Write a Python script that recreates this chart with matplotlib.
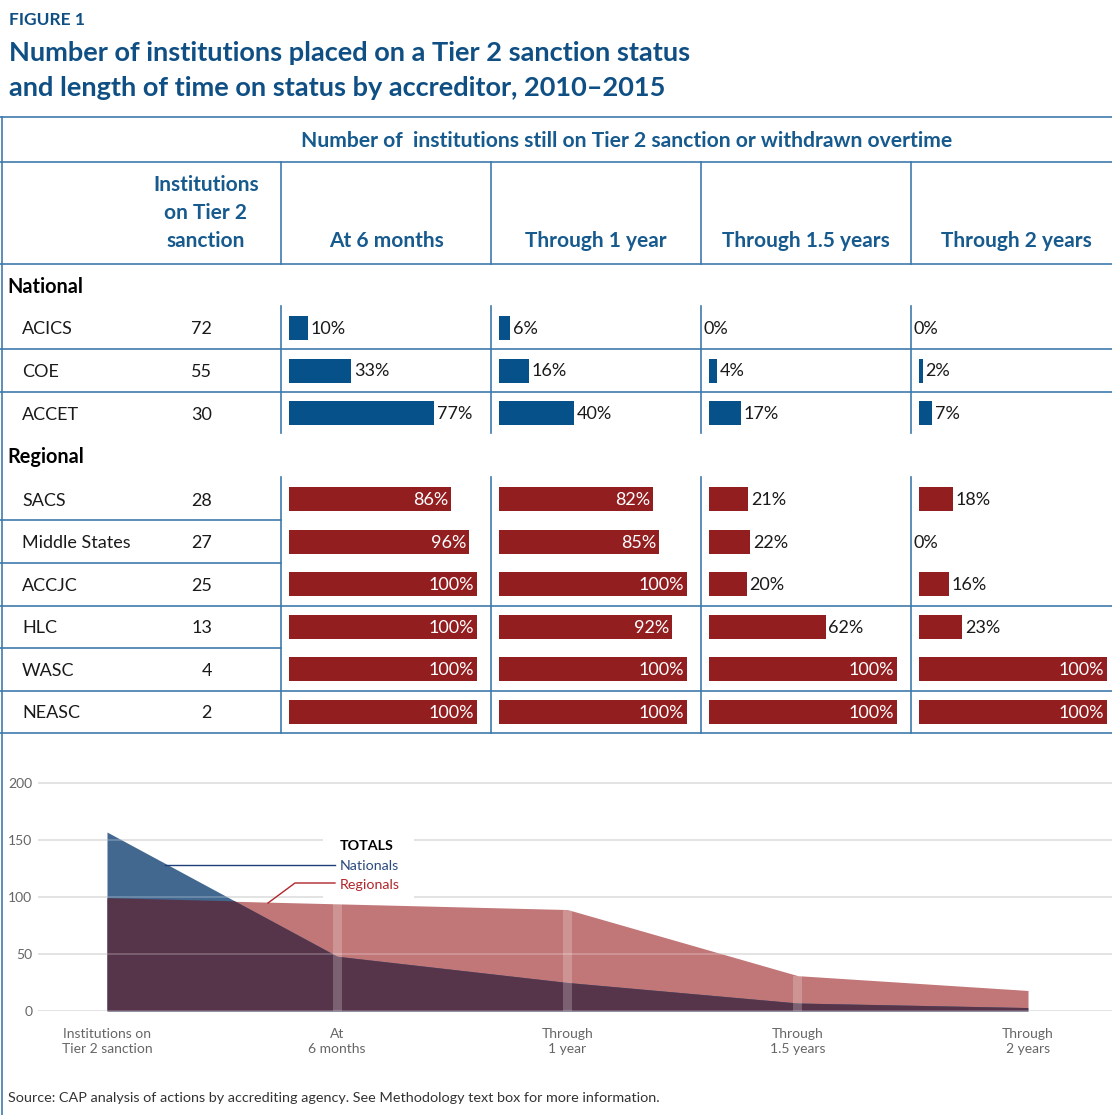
import numpy as np
import matplotlib
matplotlib.use("Agg")
import matplotlib.pyplot as plt
from matplotlib.patches import Rectangle

plt.rcParams['font.family'] = ['Lato', 'DejaVu Sans']

W, H = 1112, 1115

# ---- data ----
nat_names = ["ACICS", "COE", "ACCET"]
nat_counts = [72, 55, 30]
reg_names = ["SACS", "Middle States", "ACCJC", "HLC", "WASC", "NEASC"]
reg_counts = [28, 27, 25, 13, 4, 2]
periods = ["At 6 months", "Through 1 year", "Through 1.5 years", "Through 2 years"]
nat_pct = [[10, 6, 0, 0],
           [33, 16, 4, 2],
           [77, 40, 17, 7]]
reg_pct = [[86, 82, 21, 18],
           [96, 85, 22, 0],
           [100, 100, 20, 16],
           [100, 92, 62, 23],
           [100, 100, 100, 100],
           [100, 100, 100, 100]]
total_labels = ["Institutions on\nTier 2 sanction", "At\n6 months", "Through\n1 year",
                "Through\n1.5 years", "Through\n2 years"]
totals_nat = [157, 48, 25, 7, 3]
totals_reg = [99, 94, 89, 31, 18]
yticks = [0, 50, 100, 150, 200]

# ---- colours ----
TITLE_BLUE = "#0f4f83"
HEAD_BLUE = "#175a8e"
LINE = "#3f7aab"
BAR_BLUE = "#07518a"
BAR_RED = "#931e20"

fig = plt.figure(figsize=(W / 100, H / 100), dpi=100)
bg = fig.add_axes([0, 0, 1, 1])
bg.set_xlim(0, W)
bg.set_ylim(H, 0)
bg.axis("off")

# titles
bg.text(9, 25, "FIGURE 1", color=TITLE_BLUE, fontsize=12.5, fontweight="bold", va="baseline")
bg.text(9, 61, "Number of institutions placed on a Tier 2 sanction status",
        color=TITLE_BLUE, fontsize=19.5, fontweight="bold", va="baseline")
bg.text(9, 96, "and length of time on status by accreditor, 2010\u20132015",
        color=TITLE_BLUE, fontsize=19.5, fontweight="bold", va="baseline")

# table frame
col_lines = [281, 491, 701, 911]
bg.plot([1.5, 1.5], [117, H], color=LINE, lw=1.2)
for y in [117, 162, 264]:
    bg.plot([0, W], [y, y], color=LINE, lw=1.2)
for x in col_lines:
    bg.plot([x, x], [162, 264], color=LINE, lw=1.2)

bg.text(627, 147, "Number of  institutions still on Tier 2 sanction or withdrawn overtime",
        color=HEAD_BLUE, fontsize=15.2, fontweight="bold", ha="center", va="baseline")
bg.text(206, 247, "Institutions\non Tier 2\nsanction", color=HEAD_BLUE, fontsize=15,
        fontweight="bold", ha="center", va="baseline", linespacing=1.5)
for x, p in zip(col_lines, periods):
    bg.text(x + 105, 247, p, color=HEAD_BLUE, fontsize=15, fontweight="bold",
            ha="center", va="baseline")

# row layout
nat_y = [328 + 42.5 * i for i in range(len(nat_names))]
reg_y = [499 + 42.6 * i for i in range(len(reg_names))]

bg.text(7, 293, "National", fontsize=14.3, fontweight="bold", color="black", va="baseline")
bg.text(7, 463, "Regional", fontsize=14.3, fontweight="bold", color="black", va="baseline")

for names, counts, ys in [(nat_names, nat_counts, nat_y), (reg_names, reg_counts, reg_y)]:
    for n, c, y in zip(names, counts, ys):
        bg.text(22, y + 1.5, n, fontsize=13, va="center", color="#1a1a1a")
        bg.text(212, y + 1.5, str(c), fontsize=13, va="center", ha="right", color="#1a1a1a")

# row separators (full width / first column only)
half = 21.3
for y in [nat_y[0] + half, nat_y[1] + half]:
    bg.plot([0, W], [y, y], color=LINE, lw=1.2)
for i, y in enumerate(reg_y):
    yy = y + half
    full = i in (2, 4, 5)
    bg.plot([0, W if full else col_lines[0]], [yy, yy], color=LINE, lw=1.2)

for x in col_lines:
    bg.plot([x, x], [nat_y[0] - 22, nat_y[-1] + 20], color=LINE, lw=1.2)
    bg.plot([x, x], [reg_y[0] - 22, reg_y[-1] + half], color=LINE, lw=1.2)

# bars: one axes per period column
for j, x in enumerate(col_lines):
    ax = fig.add_axes([(x + 8) / W, 0, 188 / W, 1])
    ax.set_xlim(0, 100)
    ax.set_ylim(H, 0)
    ax.axis("off")
    for pct_rows, ys, col in [(nat_pct, nat_y, BAR_BLUE), (reg_pct, reg_y, BAR_RED)]:
        vals = [r[j] for r in pct_rows]
        ax.barh(ys, vals, height=24, color=col, left=0)
        for v, y in zip(vals, ys):
            if v >= 80:
                ax.annotate(f"{v}%", (v, y + 1), xytext=(-2, 0), textcoords="offset points",
                            ha="right", va="center", color="white", fontsize=13)
            else:
                off = 2 if v > 0 else -4
                ax.annotate(f"{v}%", (v, y + 1), xytext=(off, 0), textcoords="offset points",
                            ha="left", va="center", color="#1a1a1a", fontsize=13)

# ---- totals area chart ----
x = np.arange(len(total_labels))
ax2 = fig.add_axes([38 / W, (H - 1011) / H, (W - 38) / W, (1011 - 760) / H])
ax2.set_xlim((38 - 107) / 230.25, (W - 107) / 230.25)
ax2.set_ylim(0, (1011 - 760) / 1.14)
for s in ax2.spines.values():
    s.set_visible(False)
ax2.set_axisbelow(True)
ax2.grid(axis="y", color="#d6d6d6", lw=1.2)
ax2.set_yticks(yticks)
ax2.set_yticklabels([str(t) for t in yticks], color="#666666", fontsize=10)
ax2.tick_params(axis="y", length=0, pad=4)
ax2.set_xticks(x)
ax2.set_xticklabels(total_labels, color="#666666", fontsize=10, linespacing=1.35)
ax2.tick_params(axis="x", length=0, pad=12)

reg = ax2.fill_between(x, totals_reg, color="#c17677", lw=0, zorder=2)
ax2.fill_between(x, totals_nat, color="#42688f", lw=0, zorder=2.1)
over = ax2.fill_between(x, totals_nat, color="#56354b", lw=0, zorder=2.2)
over.set_clip_path(reg.get_paths()[0], ax2.transData)
ax2.bar(x[1:4], totals_reg[1:4], width=0.038, color="white", alpha=0.22, lw=0, zorder=3)
for t in yticks:
    ax2.axhline(t, color="white", alpha=0.25, lw=1.2, zorder=3.5)

# legend overlay
ov = fig.add_axes([0, 0, 1, 1])
ov.set_xlim(0, W)
ov.set_ylim(H, 0)
ov.axis("off")
ov.add_patch(Rectangle((323, 833), 91, 67, color="white", lw=0))
ov.text(340, 850, "TOTALS", fontsize=10.3, fontweight="bold", color="black", va="baseline")
ov.text(340, 870, "Nationals", fontsize=10.3, color="#2c4b7e", va="baseline")
ov.text(340, 889, "Regionals", fontsize=10.3, color="#b1262b", va="baseline")
ov.plot([165, 335], [865, 865], color="#1f3f78", lw=1)
ov.plot([268, 295, 335], [903, 883, 883], color="#b1262b", lw=1)

ov.text(8, 1102, "Source: CAP analysis of actions by accrediting agency. See Methodology text box for more information.",
        fontsize=10.4, color="#333333", va="baseline")

fig.savefig("out.png", dpi=100)
